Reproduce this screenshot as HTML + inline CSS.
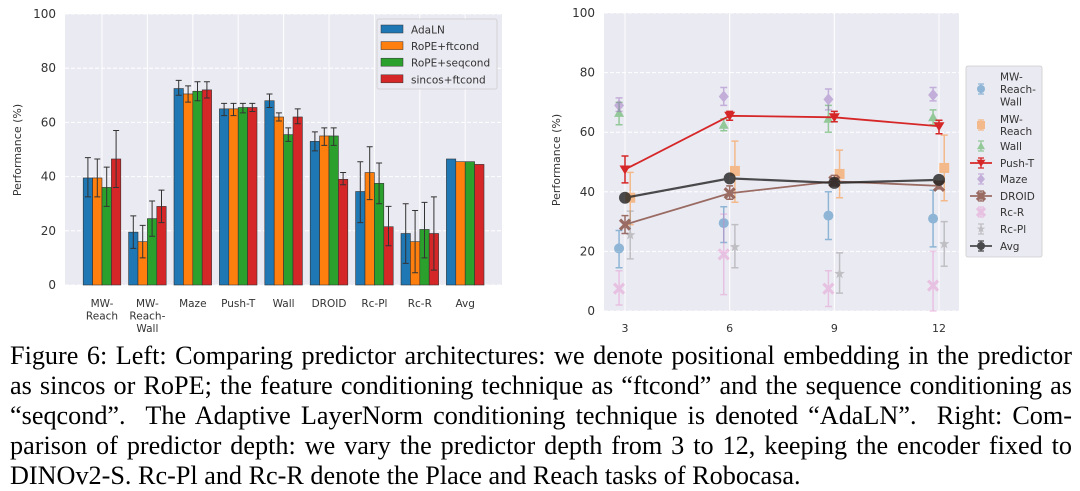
<!DOCTYPE html>
<html><head><meta charset="utf-8"><style>
body{margin:0;background:#fff;width:1080px;height:491px;overflow:hidden;}
svg text{font-family:"DejaVu Sans","Liberation Sans",sans-serif;fill:#333;}
#cap{position:absolute;left:10px;top:341px;width:1062px;font-family:"Liberation Serif",serif;font-size:26.2px;color:#000;}
#cap div{height:30px;line-height:30px;text-align:justify;text-align-last:justify;white-space:nowrap;}
#cap div.last{text-align-last:left;}
</style></head><body>
<svg id="chart" width="1080" height="335" style="position:absolute;left:0;top:0">
<g id="left"></g>
<g id="right"></g>
</svg>
<div id="cap">
<div>Figure 6: Left: Comparing predictor architectures: we denote positional embedding in the predictor</div>
<div>as sincos or RoPE; the feature conditioning technique as “ftcond” and the sequence conditioning as</div>
<div>“seqcond”.&nbsp; The Adaptive LayerNorm conditioning technique is denoted “AdaLN”.&nbsp; Right: Com-</div>
<div>parison of predictor depth: we vary the predictor depth from 3 to 12, keeping the encoder fixed to</div>
<div class="last">DINOv2-S. Rc-Pl and Rc-R denote the Place and Reach tasks of Robocasa.</div>
</div>
<script>
const NS="http://www.w3.org/2000/svg";
// ---- left chart data ----
const barCategories=["MW-\nReach","MW-\nReach-\nWall","Maze","Push-T","Wall","DROID","Rc-Pl","Rc-R","Avg"];
const barSeries=["AdaLN","RoPE+ftcond","RoPE+seqcond","sincos+ftcond"];
const barColors=["#1f77b4","#ff7f0e","#2ca02c","#d62728"];
const adaLN=[39.5,19.5,72.5,65,68,53,34.5,19,46.5];
const adaLNLo=[32.5,13.5,70,62.5,65.5,49.5,23,8,null];
const adaLNHi=[47,25.5,75.5,67,70.5,56.5,45.5,30,null];
const ropeFt=[39.5,16,70.5,65,62,55,41.5,16,45.5];
const ropeFtLo=[32.5,10,67.5,62.5,60.5,51.5,31.5,4.5,null];
const ropeFtHi=[46.5,22,73.5,67,63.5,58,51,27.5,null];
const ropeSeq=[36,24.5,71.5,65.5,55.5,55,37.5,20.5,45.5];
const ropeSeqLo=[29,18,68,63.5,53,51.5,30,10,null];
const ropeSeqHi=[43.5,31,75,67,58,58,45,30.5,null];
const sincosFt=[46.5,29,72,65.5,62,39,21.5,19,44.5];
const sincosFtLo=[36,23,69,64,59.5,37,14.5,5.5,null];
const sincosFtHi=[57,35,75,67,65,41.5,29,32.5,null];
const barTicks=[0,20,40,60,80,100];
// ---- right chart data ----
const depths=[3,6,9,12];
const lineTicks=[0,20,40,60,80,100];
const lineNames=["MW-Reach-Wall","MW-Reach","Wall","Push-T","Maze","DROID","Rc-R","Rc-Pl","Avg"];
const mwrw=[21,29.5,32,31], mwrwLo=[14.5,23,24,21.5], mwrwHi=[27,35,40,40.5];
const mwr=[38,47,46,48], mwrLo=[29,36.5,38,37], mwrHi=[46.5,57,54,59];
const wall=[66.5,62.5,64.5,65], wallLo=[62.5,60.5,60,62.5], wallHi=[70,64.5,69,67.5];
const pusht=[47.5,65.5,65,62], pushtLo=[43,64,63.5,59.5], pushtHi=[52,67,67,64];
const maze=[69,72,71,72.5], mazeLo=[67,69,67.5,70.5], mazeHi=[71.5,75,74.5,75];
const droid=[29,39.5,43.5,42], droidLo=[26,37.5,42,41], droidHi=[32,42,45.5,43.5];
const rcr=[7.5,19,7.5,8.5], rcrLo=[2,5.5,1.5,0], rcrHi=[13.5,32.5,13.5,20];
const rcpl=[25.5,21.5,12.5,22.5], rcplLo=[17.5,14.5,6,15], rcplHi=[33.5,29,19.5,30];
const avg=[38,44.5,43,44];

function mk(tag,attrs,parent){const e=document.createElementNS(NS,tag);for(const k in attrs)e.setAttribute(k,attrs[k]);parent.appendChild(e);return e;}

// ---- left chart ----
const L=document.getElementById('left');
const lx0=65,lx1=502,ly0=285,ly1=14;
const ly=v=>ly0+(ly1-ly0)*v/100;
const gc=i=>102+i*45.4;
const bw=9.4;
let r=mk('rect',{x:lx0,y:ly1,width:lx1-lx0,height:ly0-ly1,fill:'#eaeaf2'},L);


barTicks.forEach(t=>{
  const gl=mk('line',{x1:lx0,x2:lx1,y1:ly(t),y2:ly(t),stroke:'#fff','stroke-width':1,'stroke-dasharray':'4,2'},L);
  
  
  const tx=mk('text',{x:lx0-9,y:ly(t)+4,'text-anchor':'end','font-size':12},L);tx.textContent=t;
  
  
});
barCategories.forEach((c,i)=>{
  const vl=mk('line',{x1:gc(i),x2:gc(i),y1:ly1,y2:ly0,stroke:'#fff','stroke-width':1},L);
  
  
  const tx=mk('text',{x:gc(i),y:307,'text-anchor':'middle','font-size':10.5},L);
  
  
  c.split('\n').forEach((s,k)=>{const ts=mk('tspan',{x:gc(i),dy:k?12.5:0},tx);ts.textContent=s;});
});
const yt=mk('text',{x:21,y:150,'text-anchor':'middle','font-size':11,transform:'rotate(-90 21 150)'},L);yt.textContent='Performance (%)';


const bvals=[adaLN,ropeFt,ropeSeq,sincosFt],blo=[adaLNLo,ropeFtLo,ropeSeqLo,sincosFtLo],bhi=[adaLNHi,ropeFtHi,ropeSeqHi,sincosFtHi];
bvals.forEach((vals,s)=>{
  vals.forEach((v,i)=>{
    const x=gc(i)-2*bw+s*bw;
    const b=mk('rect',{x:x,y:ly(v),width:bw,height:ly0-ly(v),fill:barColors[s],stroke:'#333','stroke-width':0.6},L);
    
    
    if(blo[s][i]!=null){
      const cx=x+bw/2;
      const e=mk('path',{d:`M${cx},${ly(blo[s][i])}V${ly(bhi[s][i])}M${cx-3},${ly(blo[s][i])}h6M${cx-3},${ly(bhi[s][i])}h6`,stroke:'#333','stroke-width':1,fill:'none'},L);
      
      
    }
  });
});
const lg=mk('g',{},L);


mk('rect',{x:377,y:19,width:120,height:70,rx:2,fill:'#eaeaf2',stroke:'#ccc','stroke-width':0.8},lg);
barSeries.forEach((s,k)=>{
  const y=25+k*16.6;
  mk('rect',{x:381,y:y,width:22,height:8,fill:barColors[k],stroke:'#333','stroke-width':0.5},lg);
  const t=mk('text',{x:411,y:y+8.5,'font-size':10.5},lg);t.textContent=s;
  
  
});

// ---- right chart ----
const R=document.getElementById('right');
const rx0=604,rx1=959,ry0=311,ry1=13;
const rxs=d=>625+(d-3)*(939-625)/9;
const rys=v=>ry0+(ry1-ry0)*v/100;
r=mk('rect',{x:rx0,y:ry1,width:rx1-rx0,height:ry0-ry1,fill:'#eaeaf2'},R);


lineTicks.forEach(t=>{
  const gl=mk('line',{x1:rx0,x2:rx1,y1:rys(t),y2:rys(t),stroke:'#fff','stroke-width':1,'stroke-dasharray':'4,2'},R);
  
  
  const tx=mk('text',{x:rx0-9,y:rys(t)+4,'text-anchor':'end','font-size':12},R);tx.textContent=t;
  
  
});
depths.forEach(d=>{
  const vl=mk('line',{x1:rxs(d),x2:rxs(d),y1:ry1,y2:ry0,stroke:'#fff','stroke-width':1},R);
  
  
  const tx=mk('text',{x:rxs(d),y:332,'text-anchor':'middle','font-size':11},R);tx.textContent=d;
  
  
});
const yt2=mk('text',{x:560,y:160,'text-anchor':'middle','font-size':11,transform:'rotate(-90 560 160)'},R);yt2.textContent='Performance (%)';



function marker(g,type,x,y,c,s){
  s=s||5;
  if(type==='o')return mk('circle',{cx:x,cy:y,r:s,fill:c},g);
  if(type==='s')return mk('rect',{x:x-s,y:y-s,width:2*s,height:2*s,fill:c},g);
  if(type==='^')return mk('path',{d:`M${x},${y-s}L${x+s},${y+s*0.8}L${x-s},${y+s*0.8}Z`,fill:c},g);
  if(type==='v')return mk('path',{d:`M${x-s*1.1},${y-s*0.8}L${x+s*1.1},${y-s*0.8}L${x},${y+s}Z`,fill:c},g);
  if(type==='D')return mk('path',{d:`M${x},${y-s*1.2}L${x+s},${y}L${x},${y+s*1.2}L${x-s},${y}Z`,fill:c},g);
  if(type==='*'){let p='';for(let k=0;k<10;k++){const a=-Math.PI/2+k*Math.PI/5,rr=k%2?s*0.45:s*1.1;p+=(k?'L':'M')+(x+rr*Math.cos(a))+','+(y+rr*Math.sin(a));}return mk('path',{d:p+'Z',fill:c},g);}
  if(type==='X'){return mk('path',{d:`M${x-s},${y-s}L${x+s},${y+s}M${x+s},${y-s}L${x-s},${y+s}`,stroke:c,'stroke-width':3.2},g);}
}
const specs=[
 {v:mwrw,lo:mwrwLo,hi:mwrwHi,c:'#1f77b4',m:'o',off:-0.17,a:0.45,line:false},
 {v:mwr,lo:mwrLo,hi:mwrHi,c:'#ff7f0e',m:'s',off:0.15,a:0.45,line:false},
 {v:wall,lo:wallLo,hi:wallHi,c:'#2ca02c',m:'^',off:-0.17,a:0.45,line:false},
 {v:pusht,lo:pushtLo,hi:pushtHi,c:'#d62728',m:'v',off:0,a:1,line:true},
 {v:maze,lo:mazeLo,hi:mazeHi,c:'#9467bd',m:'D',off:-0.17,a:0.45,line:false},
 {v:droid,lo:droidLo,hi:droidHi,c:'#8c564b',m:'X',off:0,a:0.85,line:true},
 {v:rcr,lo:rcrLo,hi:rcrHi,c:'#e377c2',m:'X',off:-0.17,a:0.35,line:false},
 {v:rcpl,lo:rcplLo,hi:rcplHi,c:'#7f7f7f',m:'*',off:0.15,a:0.4,line:false},
 {v:avg,lo:null,hi:null,c:'#222',m:'o',off:0,a:0.8,line:true}
];
specs.forEach((sp,si)=>{
  const g=mk('g',{opacity:sp.a},R);
  
  
  if(sp.line){
    const pts=sp.v.map((v,i)=>rxs(depths[i]+sp.off)+','+rys(v)).join(' ');
    mk('polyline',{points:pts,fill:'none',stroke:sp.c,'stroke-width':si===8?2.2:1.8},g);
  }
  sp.v.forEach((v,i)=>{
    const x=rxs(depths[i]+sp.off);
    if(sp.lo){
      mk('path',{d:`M${x},${rys(sp.lo[i])}V${rys(sp.hi[i])}M${x-3.5},${rys(sp.lo[i])}h7M${x-3.5},${rys(sp.hi[i])}h7`,stroke:sp.c,'stroke-width':1.5,fill:'none'},g);
    }
    const m=marker(g,sp.m,x,rys(v),sp.c,si===8?6:5);
    
    
  });
});
const lg2=mk('g',{},R);


mk('rect',{x:966,y:66,width:76,height:191,rx:2,fill:'#eaeaf2',stroke:'#ccc','stroke-width':0.8},lg2);
const legLabels=[["MW-","Reach-","Wall"],["MW-","Reach"],["Wall"],["Push-T"],["Maze"],["DROID"],["Rc-R"],["Rc-Pl"],["Avg"]];
const legY=[89,125,146,163,179,196,212,229,246];
legLabels.forEach((lab,k)=>{
  const sp=specs[k];const y=legY[k];
  const g=mk('g',{opacity:sp.a},lg2);
  if(sp.line)mk('line',{x1:970,x2:992,y1:y,y2:y,stroke:sp.c,'stroke-width':1.8},g);
  if(sp.lo||k===8)mk('path',{d:`M981,${y-5}V${y+5}M978,${y-5}h6M978,${y+5}h6`,stroke:sp.c,'stroke-width':1.3},g);
  marker(g,sp.m,981,y,sp.c,4);
  const t=mk('text',{x:1000,'font-size':10.5},lg2);
  
  
  lab.forEach((s,j)=>{const ts=mk('tspan',{x:1000,y:y+4+(j-(lab.length-1)/2)*12.3},t);ts.textContent=s;});
});
</script>
</body></html>
